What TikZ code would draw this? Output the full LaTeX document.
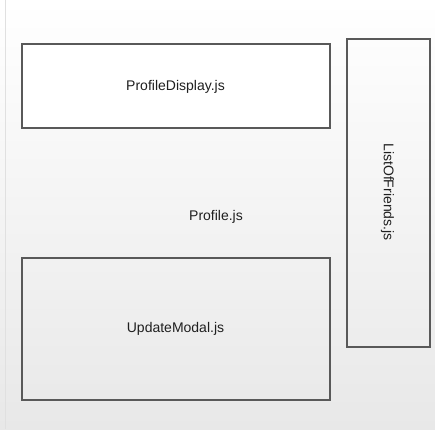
\documentclass[tikz,border=0pt]{standalone}
\usepackage{fontspec}
\setmainfont{Liberation Sans}
\begin{document}
\begin{tikzpicture}[x=1pt,y=-1pt,
  comp/.style={draw=black!65,line width=1.3pt,inner sep=0pt},
  lbl/.style={font=\fontsize{14}{16}\selectfont,text=black!88,inner sep=0pt}]
\shade[top color=white,bottom color=black!9] (0,0) rectangle (435,429);
\useasboundingbox (0,0) rectangle (435,429);
\draw[black!12,line width=1pt] (5,0) -- (5,429);
\node[comp,minimum width=308pt,minimum height=84pt,fill=white] (pd) at (176,86) {};
\node[comp,minimum width=308pt,minimum height=142pt] (um) at (176,329) {};
\node[comp,minimum width=83pt,minimum height=308pt] (lf) at (388.5,193) {};
\node[lbl] (pdt) at (175.5,87) {ProfileDisplay.js};
\node[lbl] (umt) at (175.5,329) {UpdateModal.js};
\node[lbl] (pt) at (216,217) {Profile.js};
\node[lbl,rotate=-90] (lft) at (387.5,192) {ListOfFriends.js};
\end{tikzpicture}
\end{document}
